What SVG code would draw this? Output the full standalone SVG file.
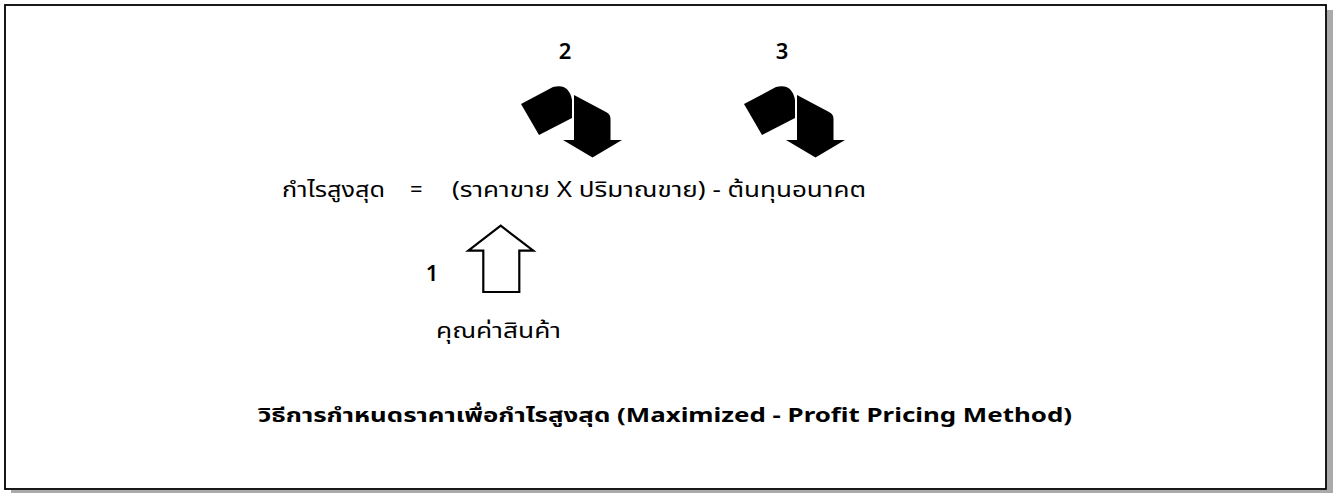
<svg xmlns="http://www.w3.org/2000/svg" width="1333" height="493" viewBox="0 0 1333 493">
<style>
.th{font-family:"Noto Sans","Noto Sans Thai","DejaVu Sans",sans-serif;fill:#000}
.num{font-family:"Noto Sans","Liberation Sans",sans-serif;font-size:22px;font-weight:600;fill:#000;text-anchor:middle}
.bend{fill:#000}
</style>
<defs>
<g id="bentArrow">
<path d="M521,104 L553,87 Q569,83 572,100 L572,118 L539,135 Z"/>
<path d="M574,95 L606,112 Q610.5,114 610.5,119 L610.5,140 L622,140 L592.5,157.5 L563,140 L574,140 Z"/>
</g>
</defs>
<g id="frame">
<rect x="1327" y="10" width="6" height="483" fill="#aaaaaa"/>
<rect x="11" y="490" width="1322" height="3" fill="#aaaaaa"/>
<rect x="5" y="5" width="1321" height="484" fill="#fff" stroke="#000" stroke-width="1.8"/>
</g>
<g id="connectors">
<use href="#bentArrow" class="bend"/>
<use href="#bentArrow" class="bend" transform="translate(223,0)"/>
<path d="M500.7,225.7 L533.3,250.7 L519.3,250.7 L519.3,292 L483.3,292 L483.3,250.7 L468.3,250.7 Z" fill="#fff" stroke="#000" stroke-width="2.2" stroke-linejoin="miter"/>
</g>
<g id="label-2"><text class="num" x="565" y="59">2</text></g>
<g id="label-3"><text class="num" x="782" y="59">3</text></g>
<g id="label-1"><text class="num" x="432" y="281">1</text></g>
<g id="formula">
<text class="th" x="282" y="197" font-size="22" textLength="103" lengthAdjust="spacingAndGlyphs">กำไรสูงสุด</text>
<text class="th" x="410" y="197" font-size="22">=</text>
<text class="th" x="452" y="197" font-size="22" textLength="414" lengthAdjust="spacingAndGlyphs">(ราคาขาย X ปริมาณขาย) - ต้นทุนอนาคต</text>
</g>
<g id="value">
<text class="th" x="436" y="338" font-size="22" textLength="125" lengthAdjust="spacingAndGlyphs">คุณค่าสินค้า</text>
</g>
<g id="title">
<text class="th" x="258" y="422" font-size="19" font-weight="bold" textLength="814" lengthAdjust="spacingAndGlyphs">วิธีการกำหนดราคาเพื่อกำไรสูงสุด (Maximized - Profit Pricing Method)</text>
</g>
</svg>
